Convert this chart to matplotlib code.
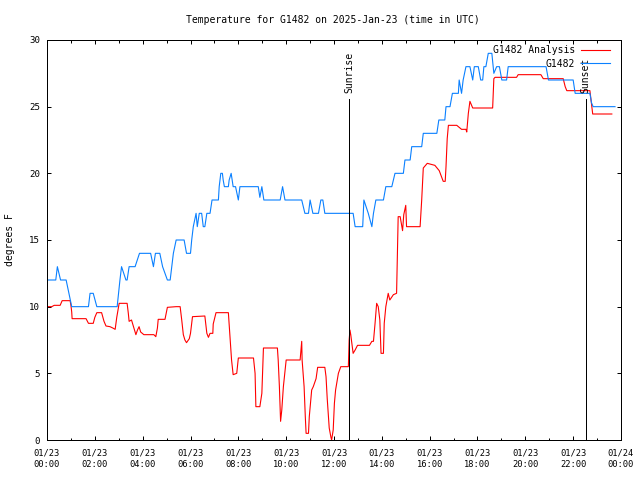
import matplotlib
matplotlib.use("Agg")
import matplotlib.pyplot as plt
import numpy as np

plt.rcParams['font.family'] = ['DejaVu Sans Mono', 'DejaVu Sans']

title = "Temperature for G1482 on 2025-Jan-23 (time in UTC)"
ylabel = "degrees F"
series_names = ["G1482 Analysis", "G1482"]

# time in minutes after 2025-01-23 00:00 UTC
analysis_min = [1, 12, 18, 33, 38, 58, 60, 62, 63, 98, 104, 116, 120, 125, 137, 143, 148, 158, 165, 171,
                175, 181, 201, 204, 206, 212, 217, 223, 227, 231, 235, 243, 268, 273, 277, 279, 296, 302,
                324, 334, 338, 342, 346, 350, 357, 360, 365, 396, 401, 405, 409, 416, 417, 424, 455, 459,
                463, 467, 476, 480, 518, 522, 524, 534, 539, 543, 578, 580, 583, 585, 586, 589, 593, 600,
                635, 639, 640, 645, 648, 650, 656, 658, 664, 668, 675, 679, 697, 700, 703, 706, 708, 712,
                714, 718, 721, 724, 731, 737, 756, 758, 760, 762, 768, 773, 779, 809, 815, 819, 823, 827,
                831, 835, 838, 844, 846, 850, 856, 860, 869, 877, 879, 881, 886, 892, 895, 900, 902, 936,
                940, 944, 954, 973, 984, 994, 999, 1001, 1004, 1007, 1028, 1040, 1051, 1053, 1057, 1061,
                1068, 1118, 1121, 1124, 1178, 1182, 1239, 1245, 1295, 1300, 1304, 1362, 1369, 1417]
analysis_val = [10.0, 10.0, 10.1, 10.1, 10.45, 10.45, 10.1, 9.6, 9.1, 9.1, 8.75, 8.75, 9.2, 9.55, 9.55, 8.9,
                8.55, 8.5, 8.4, 8.3, 9.2, 10.25, 10.25, 9.5, 8.9, 9.0, 8.5, 7.9, 8.25, 8.5, 8.1, 7.9, 7.9,
                7.75, 8.4, 9.05, 9.05, 9.95, 10.0, 10.0, 9.0, 7.9, 7.5, 7.3, 7.6, 8.0, 9.25, 9.3, 8.0, 7.7,
                8.0, 8.0, 8.7, 9.55, 9.55, 7.75, 6.0, 4.9, 5.0, 6.15, 6.15, 5.0, 2.5, 2.5, 3.5, 6.9, 6.9,
                6.0, 4.0, 2.25, 1.4, 2.25, 4.0, 6.0, 6.0, 7.4, 6.0, 4.0, 1.75, 0.5, 0.5, 1.75, 3.75, 4.0,
                4.6, 5.45, 5.45, 4.75, 3.1, 1.75, 0.9, 0.25, 0.0, 0.75, 2.75, 3.75, 5.0, 5.5, 5.5, 7.5,
                8.25, 7.9, 6.5, 6.75, 7.1, 7.1, 7.4, 7.4, 8.75, 10.25, 10.0, 9.0, 6.5, 6.5, 8.75, 10.0,
                11.0, 10.5, 10.9, 11.0, 13.9, 16.75, 16.75, 15.7, 16.9, 17.6, 16.0, 16.0, 18.0, 20.4,
                20.75, 20.6, 20.2, 19.4, 19.4, 20.5, 22.6, 23.6, 23.6, 23.3, 23.3, 23.1, 24.5, 25.4, 24.9,
                24.9, 27.1, 27.2, 27.2, 27.4, 27.4, 27.1, 27.1, 26.5, 26.2, 26.2, 24.45, 24.45]

obs_min = [0, 22, 26, 34, 48, 55, 62, 104, 108, 116, 125, 176, 183, 187, 198, 201, 206, 221, 232, 260, 267,
           272, 283, 290, 302, 309, 317, 324, 344, 350, 360, 363, 367, 374, 377, 382, 388, 392, 396, 401,
           409, 414, 430, 432, 436, 440, 442, 445, 455, 457, 462, 467, 473, 480, 484, 530, 534, 539, 544,
           585, 591, 597, 639, 647, 656, 660, 667, 681, 687, 692, 697, 768, 773, 792, 795, 806, 815, 819,
           825, 844, 850, 865, 873, 894, 898, 911, 915, 940, 944, 978, 983, 998, 1001, 1011, 1017, 1032,
           1034, 1040, 1044, 1051, 1061, 1068, 1072, 1082, 1088, 1093, 1096, 1101, 1107, 1116, 1121, 1128,
           1135, 1141, 1153, 1157, 1252, 1258, 1320, 1325, 1362, 1366, 1370, 1425]
obs_val = [12, 12, 13, 12, 12, 11, 10, 10, 11, 11, 10, 10, 12, 13, 12, 12, 13, 13, 14, 14, 13, 14, 14, 13,
           12, 12, 14, 15, 15, 14, 14, 15, 16, 17, 16, 17, 17, 16, 16, 17, 17, 18, 18, 19, 20, 20, 19.5, 19,
           19, 19.5, 20, 19, 19, 18, 19, 19, 18.2, 19, 18, 18, 19, 18, 18, 17, 17, 18, 17, 17, 18, 18, 17,
           17, 16, 16, 18, 17, 16, 17, 18, 18, 19, 19, 20, 20, 21, 21, 22, 22, 23, 23, 24, 24, 25, 25, 26,
           26, 27, 26, 27, 28, 28, 27, 28, 28, 27, 27, 28, 28, 29, 29, 27.5, 28, 28, 27, 27, 28, 28, 27, 27,
           26, 26, 25.3, 25, 25]

sunrise_min = 758
sunset_min = 1351
tick_hours = list(range(0, 25, 2))
tick_labels = ["01/23\n00:00", "01/23\n02:00", "01/23\n04:00", "01/23\n06:00", "01/23\n08:00",
               "01/23\n10:00", "01/23\n12:00", "01/23\n14:00", "01/23\n16:00", "01/23\n18:00",
               "01/23\n20:00", "01/23\n22:00", "01/24\n00:00"]
yticks = [0, 5, 10, 15, 20, 25, 30]

LW = 0.72
DLW = 0.8

fig = plt.figure(figsize=(6.4, 4.8), dpi=100)
ax = fig.add_axes([47/640, (480-440)/480, 574/640, 400/480])

ax.plot(np.array(analysis_min)/60, analysis_val, color='#ff0000', lw=DLW,
        label=series_names[0])
ax.plot(np.array(obs_min)/60, obs_val, color='#0a80ff', lw=DLW,
        label=series_names[1])

for t, lab in [(sunrise_min, "Sunrise"), (sunset_min, "Sunset")]:
    ax.vlines(t/60, 0, 25.6, color='black', lw=LW, antialiased=False)
    ax.text(t/60, 26.0, lab, rotation=90, ha='center', va='bottom', fontsize=7)

ax.set_xlim(0, 24)
ax.set_ylim(0, 30)
ax.set_xticks(tick_hours)
ax.set_xticklabels(tick_labels, fontsize=6.3, linespacing=1.45)
ax.set_xticks(range(1, 24, 2), minor=True)
ax.set_yticks(yticks)
ax.set_yticklabels([str(v) for v in yticks], fontsize=6.6)
ax.tick_params(which='major', direction='in', length=3.2, width=LW, top=True, right=True, pad=5)
ax.tick_params(which='minor', direction='in', length=1.8, width=LW, top=True, right=False)
ax.tick_params(axis='x', which='major', pad=6)
for s in ax.spines.values():
    s.set_linewidth(LW)

ax.set_ylabel(ylabel, fontsize=7)
ax.yaxis.set_label_coords(-(47-15)/574, 0.5)
fig.text(333/640, 1-20.2/480, title, ha='center', va='center', fontsize=7)

leg = ax.legend(loc='upper right', bbox_to_anchor=((610-47)/574, (440-45.5)/400), markerfirst=False,
                frameon=False, fontsize=7, handlelength=3.0, handletextpad=0.6, labelspacing=0.35,
                borderpad=0, borderaxespad=0)

fig.savefig("out.png", dpi=100)
